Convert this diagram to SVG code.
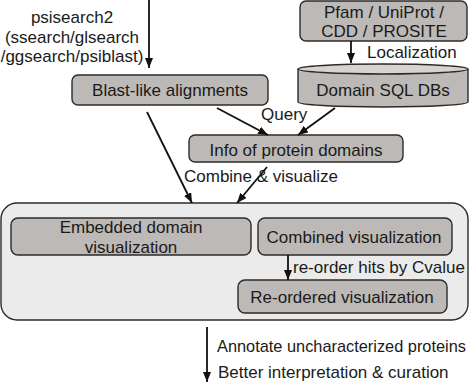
<svg xmlns="http://www.w3.org/2000/svg" width="475" height="385" viewBox="0 0 475 385">
<defs>
<marker id="ah" markerUnits="userSpaceOnUse" markerWidth="10" markerHeight="8" refX="10" refY="4" orient="auto">
<path d="M0,0 L10,4 L0,8 z" fill="#111"/>
</marker>
<style>
text{font-family:"Liberation Sans",Arial,sans-serif;font-size:17px;fill:#1a1a1a}
.box{fill:#bdb9b6;stroke:#2b2b2b;stroke-width:1.4}
.outer{fill:#ebebeb;stroke:#2b2b2b;stroke-width:1.4}
.c{text-anchor:middle}
.conn line{stroke:#111;stroke-width:1.8;marker-end:url(#ah)}
</style>
</defs>
<rect width="475" height="385" fill="#fff"/>
<g id="container">
<rect class="outer" x="1" y="203" width="467" height="117" rx="16"/>
</g>
<g id="input-label">
<text class="c" x="72" y="23">psisearch2</text>
<text class="c" x="72" y="43">(ssearch/glsearch</text>
<text class="c" x="72" y="62">/ggsearch/psiblast)</text>
</g>
<g id="blast">
<rect class="box" x="72" y="75" width="196" height="30" rx="6"/>
<text class="c" x="170" y="96">Blast-like alignments</text>
</g>
<g id="pfam">
<rect class="box" x="300" y="1" width="167" height="40" rx="6"/>
<text class="c" x="384" y="18">Pfam / UniProt /</text>
<text class="c" x="384" y="37">CDD / PROSITE</text>
</g>
<g id="domaindb">
<path class="box" d="M298,69 L298,102 A85,5 0 0 0 468,102 L468,69"/>
<ellipse cx="383" cy="69" rx="85" ry="5" fill="#d6d3d0" stroke="#2b2b2b" stroke-width="1.4"/>
<text class="c" x="383" y="96">Domain SQL DBs</text>
</g>
<g id="info">
<rect class="box" x="189" y="135" width="214" height="27" rx="6"/>
<text class="c" x="296" y="156">Info of protein domains</text>
</g>
<g id="embedded">
<rect class="box" x="11" y="218" width="240" height="37" rx="7"/>
<text class="c" x="131" y="233">Embedded domain</text>
<text class="c" x="131" y="253">visualization</text>
</g>
<g id="combined">
<rect class="box" x="258" y="218" width="194" height="37" rx="7"/>
<text class="c" x="354" y="243">Combined visualization</text>
</g>
<g id="reordered">
<rect class="box" x="238" y="280" width="209" height="33" rx="7"/>
<text class="c" x="342" y="303">Re-ordered visualization</text>
</g>
<g id="connectors" class="conn">
<line x1="149" y1="0" x2="149" y2="68"/>
<line x1="351" y1="41" x2="351" y2="63"/>
<line x1="217" y1="108" x2="268" y2="135"/>
<line x1="335" y1="108" x2="298" y2="135"/>
<line x1="147" y1="112" x2="192" y2="203"/>
<line x1="267" y1="167" x2="237" y2="203"/>
<line x1="288" y1="255" x2="288" y2="280"/>
<line x1="207" y1="327" x2="207" y2="382"/>
</g>
<g id="labels">
<text x="367" y="58">Localization</text>
<text x="261" y="120">Query</text>
<text x="184" y="182">Combine &amp; visualize</text>
<text x="293" y="273">re-order hits by Cvalue</text>
<text x="217" y="352" textLength="249" lengthAdjust="spacingAndGlyphs">Annotate uncharacterized proteins</text>
<text x="218" y="378">Better interpretation &amp; curation</text>
</g>
</svg>
